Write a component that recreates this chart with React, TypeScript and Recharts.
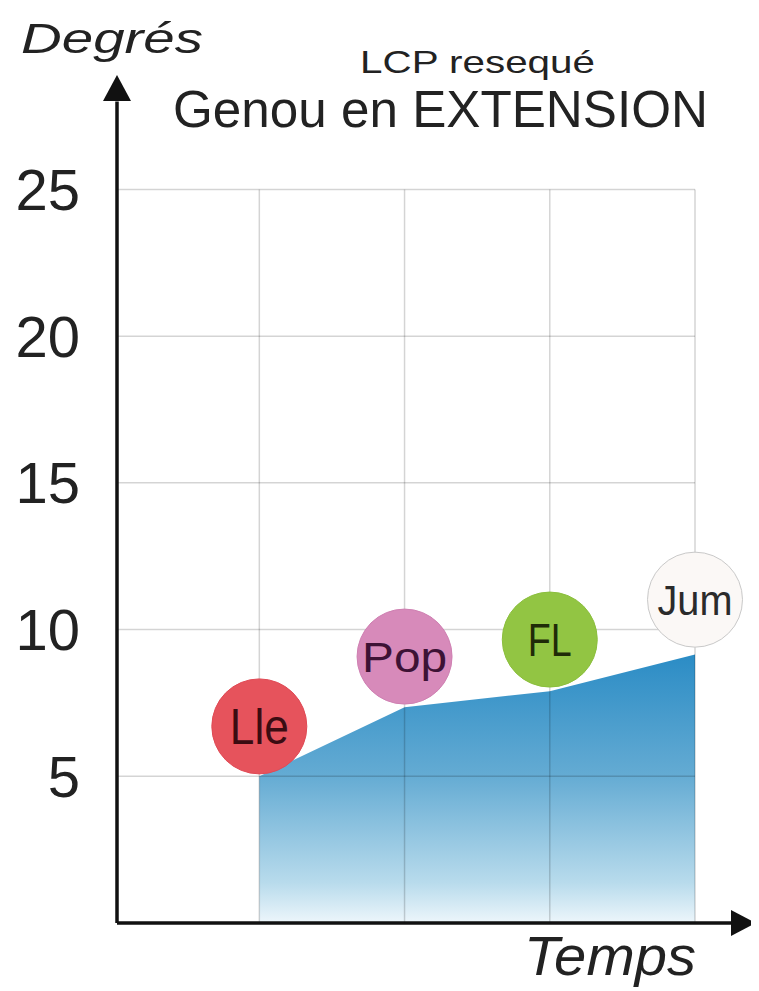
import React from 'react';
import { ComposedChart, Area, Scatter, XAxis, YAxis, ReferenceLine, ReferenceDot } from 'recharts';

// ---- data ----
const timePoints = [1, 2, 3, 4];
const extensionDeg = [5, 7.35, 7.9, 9.15];
const muscleNames = ['Lle', 'Pop', 'FL', 'Jum'];
const muscleDeg = [6.7, 9.08, 9.66, 11.02];
const yTicks = [5, 10, 15, 20, 25];
const gridXs = [1, 2, 3, 4];
const titleSmall = 'LCP resequé';
const titleBig = 'Genou en EXTENSION';
const yLabel = 'Degrés';
const xLabel = 'Temps';

// ---- styles ----
const FONT = '"Liberation Sans", Arial, sans-serif';
const X_MIN = 0.02;
const X_MAX = 4.42;
const Y_MAX = 28.9;
const GRID_TOP = 25;
const GRID_RIGHT = 4;
const muscleStyle: Record<string, { fill: string; stroke: string; text: string; fs: number; tl: number }> = {
  Lle: { fill: '#e6535c', stroke: '#e04a55', text: '#3b0c12', fs: 50, tl: 59 },
  Pop: { fill: '#d78aba', stroke: '#cf80b2', text: '#3d1235', fs: 43, tl: 85 },
  FL: { fill: '#92c543', stroke: '#8bbf3d', text: '#1f2b08', fs: 47, tl: 44 },
  Jum: { fill: '#fbf8f6', stroke: '#c9c9c9', text: '#2b2b2b', fs: 42, tl: 75 },
};

const areaData = timePoints.map((x, i) => ({ x, deg: extensionDeg[i] }));
const muscleData = timePoints.map((x, i) => ({ x, y: muscleDeg[i], name: muscleNames[i] }));

const W = 751;
const H = 983;

const MuscleShape = (props: any) => {
  const { cx, cy, payload } = props;
  const st = muscleStyle[payload.name];
  return (
    <g>
      <circle cx={cx} cy={cy} r={47.5} fill={st.fill} stroke={st.stroke} strokeWidth={1} />
      <text
        x={cx}
        y={cy + st.fs * 0.36}
        textAnchor="middle"
        fontFamily={FONT}
        fontSize={st.fs}
        fill={st.text}
        textLength={st.tl}
        lengthAdjust="spacingAndGlyphs"
      >
        {payload.name}
      </text>
    </g>
  );
};

const ArrowUp = (props: any) => {
  const { cx, cy } = props;
  return <polygon points={`${cx},${cy} ${cx - 14},${cy + 26} ${cx + 14},${cy + 26}`} fill="#111" />;
};
const ArrowRight = (props: any) => {
  const { cx, cy } = props;
  return <polygon points={`${cx},${cy} ${cx - 25},${cy - 13} ${cx - 25},${cy + 13}`} fill="#111" />;
};

export default function App() {
  return (
    <div style={{ position: 'relative', width: W, height: H }}>
      <ComposedChart width={W} height={H} data={areaData} margin={{ top: 67, right: 3, bottom: 68, left: 0 }}>
        <defs>
          <linearGradient id="extGrad" x1="0" y1="0" x2="0" y2="1">
            <stop offset="0" stopColor="#2b8cc5" />
            <stop offset="0.45" stopColor="#64abd3" />
            <stop offset="0.85" stopColor="#b8dbec" />
            <stop offset="1" stopColor="#edf6fb" />
          </linearGradient>
        </defs>
        <XAxis type="number" dataKey="x" domain={[X_MIN, X_MAX]} hide allowDataOverflow />
        <YAxis
          type="number"
          domain={[0, Y_MAX]}
          ticks={yTicks}
          width={109}
          axisLine={false}
          tickLine={false}
          tickSize={0}
          tickMargin={37}
          allowDataOverflow
          tick={{ fontSize: 58, fill: '#222', fontFamily: FONT }}
        />
        <Area
          type="linear"
          dataKey="deg"
          fill="url(#extGrad)"
          fillOpacity={1}
          stroke="none"
          isAnimationActive={false}
          dot={false}
          activeDot={false}
        />
        {yTicks.map((t) => (
          <ReferenceLine
            key={'h' + t}
            segment={[{ x: X_MIN, y: t }, { x: GRID_RIGHT, y: t }]}
            stroke="#000"
            strokeOpacity={0.17}
            strokeWidth={1.5}
            ifOverflow="visible"
          />
        ))}
        {gridXs.map((g) => (
          <ReferenceLine
            key={'v' + g}
            segment={[{ x: g, y: 0 }, { x: g, y: GRID_TOP }]}
            stroke="#000"
            strokeOpacity={0.17}
            strokeWidth={1.5}
            ifOverflow="visible"
          />
        ))}
        <ReferenceLine
          segment={[{ x: X_MIN, y: 0 }, { x: X_MIN, y: 28 }]}
          stroke="#111"
          strokeWidth={3.5}
          ifOverflow="visible"
        />
        <ReferenceLine
          segment={[{ x: X_MIN, y: 0 }, { x: 4.3, y: 0 }]}
          stroke="#111"
          strokeWidth={3.5}
          ifOverflow="visible"
        />
        <ReferenceDot x={X_MIN} y={Y_MAX} r={0} shape={ArrowUp} ifOverflow="visible" />
        <ReferenceDot x={X_MAX} y={0} r={0} shape={ArrowRight} ifOverflow="visible" />
        <Scatter data={muscleData} dataKey="y" shape={MuscleShape} isAnimationActive={false} />
      </ComposedChart>
      <svg
        width={W}
        height={H}
        style={{ position: 'absolute', left: 0, top: 0, pointerEvents: 'none' }}
      >
        <text x={13} y={45} fontFamily={FONT} fontStyle="italic" fontSize={43} fill="#222" textLength={182} lengthAdjust="spacingAndGlyphs">
          {yLabel}
        </text>
        <text x={352} y={65} fontFamily={FONT} fontSize={32} fill="#222" textLength={235} lengthAdjust="spacingAndGlyphs">
          {titleSmall}
        </text>
        <text x={165} y={119} fontFamily={FONT} fontSize={52} fill="#222" textLength={535} lengthAdjust="spacingAndGlyphs">
          {titleBig}
        </text>
        <text x={516} y={967} fontFamily={FONT} fontStyle="italic" fontSize={55} fill="#222" textLength={172} lengthAdjust="spacingAndGlyphs">
          {xLabel}
        </text>
      </svg>
    </div>
  );
}
